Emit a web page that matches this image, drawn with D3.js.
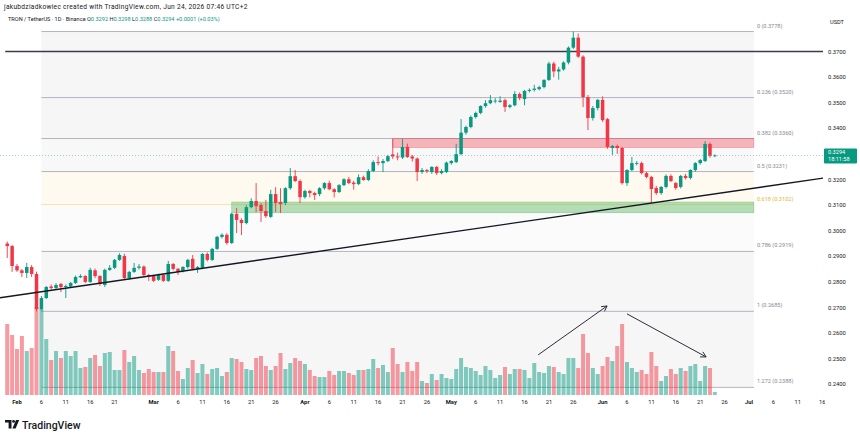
<!DOCTYPE html>
<html>
<head>
<meta charset="utf-8">
<script src="https://cdn.jsdelivr.net/npm/d3@7"></script>
<style>
  body { margin: 0; background: #fff; }
  svg text { font-family: Roboto, "Open Sans", sans-serif; }
</style>
</head>
<body>
<div id="chart"></div>
<script>
// daily candles TRX/USDT, first bar 2026-01-30
var startDate = "2026-01-30";

var opens = [
  0.2950, 0.2940, 0.2862, 0.2845, 0.2835, 0.2858, 0.2831, 0.2694, 0.2737, 0.2782,
  0.2776, 0.2792, 0.2780, 0.2782, 0.2796, 0.2818, 0.2823, 0.2800, 0.2845, 0.2823,
  0.2788, 0.2847, 0.2855, 0.2886, 0.2901, 0.2815, 0.2839, 0.2855, 0.2860, 0.2827,
  0.2823, 0.2808, 0.2827, 0.2804, 0.2870, 0.2851, 0.2843, 0.2858, 0.2890, 0.2851,
  0.2855, 0.2909, 0.2886, 0.2929, 0.2976, 0.2984, 0.2952, 0.3066, 0.3042, 0.3030,
  0.3092, 0.3116, 0.3100, 0.3077, 0.3054, 0.3143, 0.3112, 0.3108, 0.3166, 0.3213,
  0.3194, 0.3131, 0.3155, 0.3147, 0.3143, 0.3166, 0.3186, 0.3162, 0.3151, 0.3178,
  0.3201, 0.3188, 0.3182, 0.3209, 0.3198, 0.3233, 0.3268, 0.3264, 0.3272, 0.3298,
  0.3290, 0.3286, 0.3327, 0.3290, 0.3282, 0.3229, 0.3237, 0.3229, 0.3249, 0.3225,
  0.3229, 0.3264, 0.3268, 0.3299, 0.3383, 0.3405, 0.3444, 0.3460, 0.3487, 0.3498,
  0.3505, 0.3503, 0.3510, 0.3483, 0.3490, 0.3534, 0.3514, 0.3546, 0.3550, 0.3553,
  0.3561, 0.3589, 0.3653, 0.3622, 0.3630, 0.3657, 0.3715, 0.3754, 0.3680, 0.3522,
  0.3440, 0.3479, 0.3511, 0.3436, 0.3323, 0.3331, 0.3323, 0.3186, 0.3237, 0.3262,
  0.3264, 0.3225, 0.3210, 0.3167, 0.3147, 0.3171, 0.3214, 0.3186, 0.3171, 0.3214,
  0.3206, 0.3237, 0.3264, 0.3272, 0.3339, 0.3292
];
var highs = [
  0.2958, 0.2945, 0.2870, 0.2850, 0.2874, 0.2866, 0.2840, 0.2745, 0.2784, 0.2790,
  0.2795, 0.2796, 0.2790, 0.2800, 0.2825, 0.2830, 0.2826, 0.2855, 0.2852, 0.2826,
  0.2852, 0.2866, 0.2890, 0.2912, 0.2910, 0.2843, 0.2874, 0.2870, 0.2864, 0.2832,
  0.2826, 0.2832, 0.2830, 0.2882, 0.2874, 0.2855, 0.2862, 0.2890, 0.2905, 0.2862,
  0.2913, 0.2915, 0.2933, 0.2980, 0.2990, 0.2990, 0.3070, 0.3089, 0.3048, 0.3100,
  0.3127, 0.3186, 0.3108, 0.3120, 0.3160, 0.3170, 0.3166, 0.3170, 0.3245, 0.3237,
  0.3200, 0.3160, 0.3160, 0.3152, 0.3170, 0.3190, 0.3195, 0.3166, 0.3182, 0.3205,
  0.3210, 0.3195, 0.3220, 0.3215, 0.3240, 0.3275, 0.3290, 0.3280, 0.3296, 0.3358,
  0.3305, 0.3358, 0.3340, 0.3296, 0.3286, 0.3245, 0.3241, 0.3252, 0.3253, 0.3240,
  0.3270, 0.3276, 0.3339, 0.3436, 0.3410, 0.3450, 0.3465, 0.3490, 0.3510, 0.3530,
  0.3518, 0.3525, 0.3516, 0.3495, 0.3545, 0.3540, 0.3550, 0.3556, 0.3570, 0.3566,
  0.3592, 0.3660, 0.3660, 0.3640, 0.3662, 0.3720, 0.3778, 0.3770, 0.3685, 0.3530,
  0.3487, 0.3515, 0.3525, 0.3440, 0.3335, 0.3336, 0.3327, 0.3240, 0.3288, 0.3272,
  0.3270, 0.3230, 0.3214, 0.3175, 0.3175, 0.3220, 0.3220, 0.3190, 0.3218, 0.3222,
  0.3240, 0.3268, 0.3280, 0.3350, 0.3345, 0.3298
];
var lows = [
  0.2893, 0.2839, 0.2839, 0.2819, 0.2815, 0.2819, 0.2685, 0.2688, 0.2733, 0.2770,
  0.2770, 0.2760, 0.2737, 0.2776, 0.2792, 0.2815, 0.2796, 0.2796, 0.2815, 0.2784,
  0.2780, 0.2843, 0.2850, 0.2882, 0.2811, 0.2808, 0.2835, 0.2848, 0.2823, 0.2804,
  0.2800, 0.2804, 0.2800, 0.2800, 0.2845, 0.2827, 0.2837, 0.2852, 0.2847, 0.2835,
  0.2850, 0.2880, 0.2882, 0.2925, 0.2970, 0.2945, 0.2948, 0.2991, 0.2983, 0.3025,
  0.3088, 0.3073, 0.3034, 0.3050, 0.3050, 0.3073, 0.3069, 0.3100, 0.3160, 0.3190,
  0.3108, 0.3125, 0.3130, 0.3120, 0.3135, 0.3160, 0.3158, 0.3130, 0.3147, 0.3174,
  0.3182, 0.3160, 0.3178, 0.3195, 0.3194, 0.3229, 0.3255, 0.3229, 0.3268, 0.3280,
  0.3275, 0.3280, 0.3284, 0.3270, 0.3194, 0.3222, 0.3225, 0.3222, 0.3218, 0.3220,
  0.3225, 0.3258, 0.3264, 0.3295, 0.3375, 0.3400, 0.3438, 0.3455, 0.3480, 0.3494,
  0.3498, 0.3500, 0.3464, 0.3478, 0.3486, 0.3510, 0.3490, 0.3540, 0.3544, 0.3548,
  0.3556, 0.3585, 0.3600, 0.3590, 0.3625, 0.3650, 0.3710, 0.3675, 0.3483, 0.3393,
  0.3430, 0.3470, 0.3425, 0.3320, 0.3296, 0.3300, 0.3180, 0.3175, 0.3232, 0.3255,
  0.3220, 0.3205, 0.3108, 0.3140, 0.3140, 0.3165, 0.3190, 0.3160, 0.3165, 0.3200,
  0.3200, 0.3230, 0.3258, 0.3268, 0.3285, 0.3288
];
var closes = [
  0.2940, 0.2862, 0.2845, 0.2835, 0.2858, 0.2831, 0.2694, 0.2737, 0.2780, 0.2776,
  0.2788, 0.2780, 0.2784, 0.2796, 0.2819, 0.2823, 0.2800, 0.2847, 0.2823, 0.2792,
  0.2847, 0.2855, 0.2886, 0.2905, 0.2815, 0.2839, 0.2855, 0.2860, 0.2827, 0.2820,
  0.2804, 0.2827, 0.2804, 0.2870, 0.2851, 0.2839, 0.2858, 0.2886, 0.2851, 0.2858,
  0.2909, 0.2886, 0.2929, 0.2976, 0.2984, 0.2952, 0.3066, 0.3042, 0.3030, 0.3092,
  0.3116, 0.3096, 0.3077, 0.3057, 0.3143, 0.3108, 0.3104, 0.3166, 0.3213, 0.3194,
  0.3131, 0.3155, 0.3147, 0.3139, 0.3166, 0.3186, 0.3162, 0.3151, 0.3178, 0.3201,
  0.3186, 0.3182, 0.3209, 0.3198, 0.3233, 0.3268, 0.3264, 0.3272, 0.3291, 0.3290,
  0.3286, 0.3327, 0.3288, 0.3282, 0.3229, 0.3237, 0.3233, 0.3249, 0.3225, 0.3233,
  0.3266, 0.3272, 0.3299, 0.3383, 0.3405, 0.3444, 0.3460, 0.3487, 0.3498, 0.3510,
  0.3508, 0.3508, 0.3483, 0.3490, 0.3534, 0.3518, 0.3546, 0.3550, 0.3555, 0.3561,
  0.3589, 0.3653, 0.3622, 0.3630, 0.3657, 0.3715, 0.3754, 0.3680, 0.3522, 0.3440,
  0.3479, 0.3511, 0.3432, 0.3327, 0.3331, 0.3323, 0.3186, 0.3237, 0.3264, 0.3264,
  0.3225, 0.3210, 0.3163, 0.3147, 0.3171, 0.3214, 0.3194, 0.3167, 0.3214, 0.3206,
  0.3237, 0.3264, 0.3276, 0.3339, 0.3293, 0.3294
];
// volume, millions
var volumes = [
  71, 60, 46, 59, 44, 47, 88, 86, 56, 35,
  44, 37, 44, 39, 44, 27, 28, 37, 40, 29,
  42, 43, 25, 25, 45, 33, 39, 25, 22, 26,
  23, 23, 23, 49, 44, 24, 16, 27, 35, 22,
  31, 21, 26, 27, 19, 23, 37, 36, 33, 26,
  25, 37, 39, 29, 25, 29, 42, 26, 32, 37,
  34, 31, 25, 19, 18, 18, 24, 20, 24, 24,
  22, 20, 25, 25, 26, 36, 27, 30, 23, 47,
  31, 23, 33, 24, 33, 14, 12, 21, 15, 21,
  17, 16, 26, 37, 28, 27, 24, 20, 29, 25,
  17, 20, 28, 21, 26, 26, 25, 17, 32, 23,
  22, 29, 28, 23, 21, 37, 37, 27, 61, 42,
  27, 21, 29, 38, 34, 49, 71, 33, 27, 23,
  25, 21, 43, 29, 14, 19, 26, 21, 27, 24,
  29, 31, 14, 29, 27, 3
];

var fibRatios = ["0", "0.236", "0.382", "0.5", "0.618", "0.786", "1", "1.272"];
var fibPrices = [0.3778, 0.3520, 0.3360, 0.3231, 0.3102, 0.2919, 0.2685, 0.2388];
var fibFills = ["#f6f6f7", "#f6f6f7", "#f8f8f8", "#fffaf0", "#fbfbfb", "#f6f6f7", "#f6f6f7"];
var fibStart = "2026-02-06", fibEnd = "2026-07-02";

var priceTicks = [0.24, 0.25, 0.26, 0.27, 0.28, 0.29, 0.30, 0.31, 0.32, 0.33, 0.34, 0.35, 0.36, 0.37];
var xTickDates = ["2026-02-01", "2026-02-06", "2026-02-11", "2026-02-16", "2026-02-21",
  "2026-03-01", "2026-03-06", "2026-03-11", "2026-03-16", "2026-03-21", "2026-03-26",
  "2026-04-01", "2026-04-06", "2026-04-11", "2026-04-16", "2026-04-21", "2026-04-26",
  "2026-05-01", "2026-05-06", "2026-05-11", "2026-05-16", "2026-05-21", "2026-05-26",
  "2026-06-01", "2026-06-06", "2026-06-11", "2026-06-16", "2026-06-21", "2026-06-26",
  "2026-07-01", "2026-07-06", "2026-07-11", "2026-07-16"];

var resistance = { from: "2026-04-19", to: fibEnd, top: 0.3360, bottom: 0.3325 };
var support = { from: "2026-03-17", to: fibEnd, top: 0.3112, bottom: 0.3070 };
var levelLine = 0.37;
var trendPoints = [["2026-02-05", 0.2759], ["2026-06-24", 0.3144]];
var arrows = [
  [["2026-05-18T19:00", 0.2515], ["2026-06-01T22:00", 0.2706]],
  [["2026-06-06T00:00", 0.2675], ["2026-06-22T05:00", 0.2507]]
];
var lastPrice = 0.3294, countdown = "18:11:58";

var upColor = "#089981", downColor = "#f23645";
var W = 860, H = 437, plotW = 823;

var parseDay = d3.utcParse("%Y-%m-%d");
var parseTime = d3.utcParse("%Y-%m-%dT%H:%M");
var day0 = parseDay(startDate);
var bars = closes.map(function (c, i) {
  return { date: d3.utcDay.offset(day0, i), o: opens[i], h: highs[i], l: lows[i], c: c, v: volumes[i] };
});

var x = d3.scaleUtc().domain([parseDay("2026-02-01"), parseDay("2026-07-01")]).range([17, 749]);
var y = d3.scaleLinear().domain([0.24, 0.37]).range([384.3, 51.5]);
var yVol = d3.scaleLinear().domain([0, 85]).range([395, 310]);
var step = x(d3.utcDay.offset(day0, 1)) - x(day0);

var svg = d3.select("#chart").append("svg").attr("width", W).attr("height", H);
svg.append("rect").attr("width", W).attr("height", H).attr("fill", "#fff");

svg.append("clipPath").attr("id", "plotclip").append("rect")
  .attr("x", 0).attr("y", 0).attr("width", plotW).attr("height", 397);
var plot = svg.append("g").attr("clip-path", "url(#plotclip)");

// fib retracement
var fx0 = x(parseDay(fibStart)), fx1 = x(parseDay(fibEnd));
var fib = plot.append("g");
for (var k = 0; k < fibPrices.length - 1; k++) {
  fib.append("rect").attr("x", fx0).attr("width", fx1 - fx0)
    .attr("y", y(fibPrices[k])).attr("height", y(fibPrices[k + 1]) - y(fibPrices[k]))
    .attr("fill", fibFills[k]);
}
fib.selectAll("line").data(fibPrices).enter().append("line")
  .attr("x1", fx0).attr("x2", fx1)
  .attr("y1", function (d) { return y(d); }).attr("y2", function (d) { return y(d); })
  .attr("stroke", function (d, i) { return fibRatios[i] == "0.618" ? "#f3e3a6" : "#b2b5be"; })
  .attr("stroke-width", 1);
fib.selectAll("text").data(fibPrices).enter().append("text")
  .attr("x", fx1 + 3).attr("y", function (d) { return y(d) - 4; })
  .attr("font-size", 5.6)
  .attr("fill", function (d, i) { return fibRatios[i] == "0.618" ? "#e0b93a" : "#868993"; })
  .text(function (d, i) { return fibRatios[i] + " (" + d.toFixed(4) + ")"; });

// zones
[[resistance, "rgba(242,54,69,0.35)", "rgba(242,54,69,0.5)"], [support, "rgba(76,175,80,0.4)", "rgba(76,175,80,0.5)"]].forEach(function (z) {
  var r = z[0];
  plot.append("rect")
    .attr("x", x(parseDay(r.from))).attr("width", x(parseDay(r.to)) - x(parseDay(r.from)))
    .attr("y", y(r.top)).attr("height", y(r.bottom) - y(r.top))
    .attr("fill", z[1]).attr("stroke", z[2]).attr("stroke-width", 0.6);
});

// horizontal level
plot.append("line").attr("x1", x(day0) - 2).attr("x2", plotW)
  .attr("y1", y(levelLine)).attr("y2", y(levelLine))
  .attr("stroke", "#3a3d45").attr("stroke-width", 1.5);

// volume
plot.selectAll("rect.vol").data(bars).enter().append("rect").attr("class", "vol")
  .attr("x", function (d) { return x(d.date) - step * 0.41; })
  .attr("width", step * 0.82)
  .attr("y", function (d) { return yVol(d.v); })
  .attr("height", function (d) { return yVol(0) - yVol(d.v); })
  .attr("fill", function (d) { return d.c >= d.o ? "rgba(8,153,129,0.5)" : "rgba(242,54,69,0.5)"; });

// candles
var candle = plot.selectAll("g.candle").data(bars).enter().append("g").attr("class", "candle");
candle.append("line")
  .attr("x1", function (d) { return x(d.date); }).attr("x2", function (d) { return x(d.date); })
  .attr("y1", function (d) { return y(d.h); }).attr("y2", function (d) { return y(d.l); })
  .attr("stroke", function (d) { return d.c >= d.o ? upColor : downColor; }).attr("stroke-width", 0.9);
candle.append("rect")
  .attr("x", function (d) { return x(d.date) - step * 0.36; })
  .attr("width", step * 0.72)
  .attr("y", function (d) { return y(Math.max(d.o, d.c)); })
  .attr("height", function (d) { return Math.max(0.8, Math.abs(y(d.o) - y(d.c))); })
  .attr("fill", function (d) { return d.c >= d.o ? upColor : downColor; });

// trend line across the whole pane
var t0 = parseDay(trendPoints[0][0]), t1 = parseDay(trendPoints[1][0]);
var slope = (trendPoints[1][1] - trendPoints[0][1]) / (t1 - t0);
var trendAt = function (d) { return trendPoints[0][1] + slope * (d - t0); };
var dl = x.invert(0), dr = x.invert(plotW);
plot.append("line").attr("x1", 0).attr("x2", plotW)
  .attr("y1", y(trendAt(dl))).attr("y2", y(trendAt(dr)))
  .attr("stroke", "#131722").attr("stroke-width", 1.4);

// arrows
arrows.forEach(function (a) {
  var xa = x(parseTime(a[0][0])), ya = y(a[0][1]);
  var xb = x(parseTime(a[1][0])), yb = y(a[1][1]);
  var ang = Math.atan2(yb - ya, xb - xa), hl = 6, sp = 0.5;
  plot.append("line").attr("x1", xa).attr("y1", ya).attr("x2", xb).attr("y2", yb)
    .attr("stroke", "#2a2e39").attr("stroke-width", 1);
  plot.append("path")
    .attr("d", "M" + (xb - hl * Math.cos(ang - sp)) + "," + (yb - hl * Math.sin(ang - sp)) +
      "L" + xb + "," + yb +
      "L" + (xb - hl * Math.cos(ang + sp)) + "," + (yb - hl * Math.sin(ang + sp)))
    .attr("fill", "none").attr("stroke", "#2a2e39").attr("stroke-width", 1);
});

// last price line
plot.append("line").attr("x1", 0).attr("x2", plotW)
  .attr("y1", y(lastPrice)).attr("y2", y(lastPrice))
  .attr("stroke", upColor).attr("stroke-width", 0.7).attr("stroke-dasharray", "1,2").attr("opacity", 0.6);

// right price scale
var axisG = svg.append("g");
axisG.selectAll("text").data(priceTicks).enter().append("text")
  .attr("x", 828).attr("y", function (d) { return y(d) + 2; })
  .attr("font-size", 5.8).attr("fill", "#131722")
  .text(function (d) { return d.toFixed(4); });
svg.append("text").attr("x", 837).attr("y", 24).attr("text-anchor", "middle")
  .attr("font-size", 5.6).attr("fill", "#131722").text("USDT");

var ly = y(lastPrice);
svg.append("rect").attr("x", 824).attr("y", ly - 7).attr("width", 33).attr("height", 15)
  .attr("rx", 1).attr("fill", upColor);
svg.append("text").attr("x", 828).attr("y", ly - 1).attr("font-size", 5.6).attr("fill", "#fff").text(lastPrice.toFixed(4));
svg.append("text").attr("x", 828).attr("y", ly + 6).attr("font-size", 5.6).attr("fill", "#fff").text(countdown);

// time scale
svg.append("clipPath").attr("id", "xclip").append("rect")
  .attr("x", 0).attr("y", 395).attr("width", plotW + 2).attr("height", 15);
var fmtMonth = d3.utcFormat("%b"), fmtDay = d3.utcFormat("%-d");
svg.append("g").attr("clip-path", "url(#xclip)")
  .selectAll("text").data(xTickDates).enter().append("text")
  .attr("x", function (d) { return x(parseDay(d)); }).attr("y", 404)
  .attr("text-anchor", "middle").attr("font-size", 5.8).attr("fill", "#131722")
  .attr("font-weight", function (d) { return parseDay(d).getUTCDate() == 1 ? "bold" : "normal"; })
  .text(function (d) { var t = parseDay(d); return t.getUTCDate() == 1 ? fmtMonth(t) : fmtDay(t); });

// header
svg.append("text").attr("x", 4).attr("y", 9).attr("font-size", 6.6).attr("fill", "#131722")
  .attr("letter-spacing", 0.3)
  .text("jakubdziadkowiec created with TradingView.com, Jun 24, 2026 07:46 UTC+2");
var hdr = svg.append("text").attr("x", 8).attr("y", 21).attr("font-size", 5.6).attr("fill", "#131722");
var last = bars[bars.length - 1], prev = bars[bars.length - 2];
var chg = last.c - prev.c;
hdr.append("tspan").text("TRON / TetherUS · 1D · Binance  ");
[["O", last.o], ["H", last.h], ["L", last.l], ["C", last.c]].forEach(function (p) {
  hdr.append("tspan").text(p[0]);
  hdr.append("tspan").attr("fill", upColor).text(p[1].toFixed(4) + "  ");
});
hdr.append("tspan").attr("fill", upColor)
  .text((chg >= 0 ? "+" : "") + chg.toFixed(4) + " (" + (chg >= 0 ? "+" : "") + (chg / prev.c * 100).toFixed(2) + "%)");

// TradingView logo
var logo = svg.append("g").attr("transform", "translate(5,420)");
logo.append("path").attr("d", "M0,0H6.5V8.5H3.6V2.6H0Z").attr("fill", "#131722");
logo.append("circle").attr("cx", 8.6).attr("cy", 1.4).attr("r", 1.4).attr("fill", "#131722");
logo.append("path").attr("d", "M11,0H14.2L10.6,8.5H7.4Z").attr("fill", "#131722");
svg.append("text").attr("x", 22).attr("y", 428.5).attr("font-size", 10.5).attr("font-weight", 500)
  .attr("fill", "#131722").text("TradingView");
</script>
</body>
</html>
